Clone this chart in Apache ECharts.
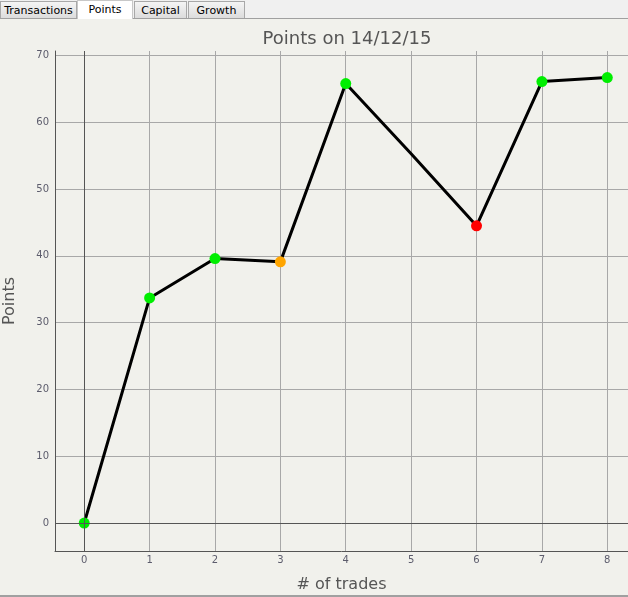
<!DOCTYPE html>
<html>
<head>
<meta charset="utf-8">
<script src="https://cdn.jsdelivr.net/npm/echarts@6/dist/echarts.min.js"></script>
<style>
html,body{margin:0;padding:0;width:628px;height:597px;overflow:hidden;background:#f1f1ec;font-family:"DejaVu Sans",Tahoma,sans-serif;}
#bar{position:absolute;left:0;top:0;width:628px;height:18px;background:#f0f0f0;border-bottom:1px solid #a0a0a0;z-index:2;}
.tab{position:absolute;top:1px;height:17px;border:1px solid #a8a8a8;border-bottom:none;background:linear-gradient(#f4f4f4,#dcdcdc);font-size:11px;line-height:17px;text-align:center;color:#000;box-sizing:border-box;}
.tab.sel{top:0;height:19px;background:#fff;border-color:#c8c8c8;}
#chart{position:absolute;left:0;top:0;width:628px;height:597px;}
#foot{position:absolute;left:0;top:595px;width:628px;height:2px;background:#a0a0a0;}
</style>
</head>
<body>
<div id="chart"></div>
<div id="bar">
  <div class="tab" style="left:0;width:77px;">Transactions</div>
  <div class="tab sel" style="left:77px;width:56px;">Points</div>
  <div class="tab" style="left:134px;width:53px;">Capital</div>
  <div class="tab" style="left:188px;width:57px;">Growth</div>
</div>
<div id="foot"></div>
<script>
const trades = [0, 1, 2, 3, 4, 5, 6, 7, 8];
const points = [0, 33.7, 39.6, 39.1, 65.8, 55.3, 44.5, 66.1, 66.7];
const pointColors = ['#00ee00', '#00ee00', '#00ee00', '#ffa500', '#00ee00', null, '#ff0000', '#00ee00', '#00ee00'];
const xTicks = [0, 1, 2, 3, 4, 5, 6, 7, 8];
const yTicks = [0, 10, 20, 30, 40, 50, 60, 70];

const chart = echarts.init(document.getElementById('chart'));
const data = trades.map((t, i) => {
  const item = { value: [t, points[i]] };
  if (pointColors[i]) item.itemStyle = { color: pointColors[i] };
  else item.symbol = 'none';
  return item;
});
const labelStyle = { color: '#5c5c6c', fontSize: 10, fontFamily: 'DejaVu Sans' };
chart.setOption({
  animation: false,
  title: {
    text: 'Points on 14/12/15',
    left: 342, top: 25, textAlign: 'center',
    textStyle: { color: '#555555', fontSize: 18, fontWeight: 'normal', fontFamily: 'DejaVu Sans' }
  },
  grid: { left: 55, right: 0, top: 51, bottom: 46, containLabel: false, outerBoundsMode: 'none' },
  xAxis: {
    type: 'value', min: -0.447, max: 8.317,
    name: '# of trades', nameLocation: 'middle', nameGap: 26,
    nameTextStyle: { color: '#555555', fontSize: 16, fontFamily: 'DejaVu Sans' },
    axisLine: { show: true, onZero: false, lineStyle: { color: '#555555', width: 1 } },
    axisTick: { show: false, customValues: xTicks },
    axisLabel: Object.assign({ customValues: xTicks, margin: 4 }, labelStyle),
    splitLine: { show: true, lineStyle: { color: '#a8a8a8', width: 1 } }
  },
  yAxis: {
    type: 'value', min: -4.19, max: 70.67,
    name: 'Points', nameLocation: 'middle', nameGap: 37, nameRotate: 90,
    nameTextStyle: { color: '#555555', fontSize: 16, fontFamily: 'DejaVu Sans' },
    axisLine: { show: true, onZero: false, lineStyle: { color: '#555555', width: 1 } },
    axisTick: { show: false, customValues: yTicks },
    axisLabel: Object.assign({ customValues: yTicks, margin: 6 }, labelStyle),
    splitLine: { show: true, lineStyle: { color: '#a8a8a8', width: 1 } }
  },
  series: [{
    type: 'line',
    data: data,
    symbol: 'circle',
    symbolSize: 11,
    showAllSymbol: true,
    lineStyle: { color: '#000000', width: 3 },
    itemStyle: { color: '#00ee00' },
    markLine: {
      silent: true, symbol: 'none', label: { show: false },
      lineStyle: { color: '#555555', width: 1, type: 'solid' },
      data: [{ xAxis: 0 }, { yAxis: 0 }]
    },
    z: 3
  }]
});
</script>
</body>
</html>
